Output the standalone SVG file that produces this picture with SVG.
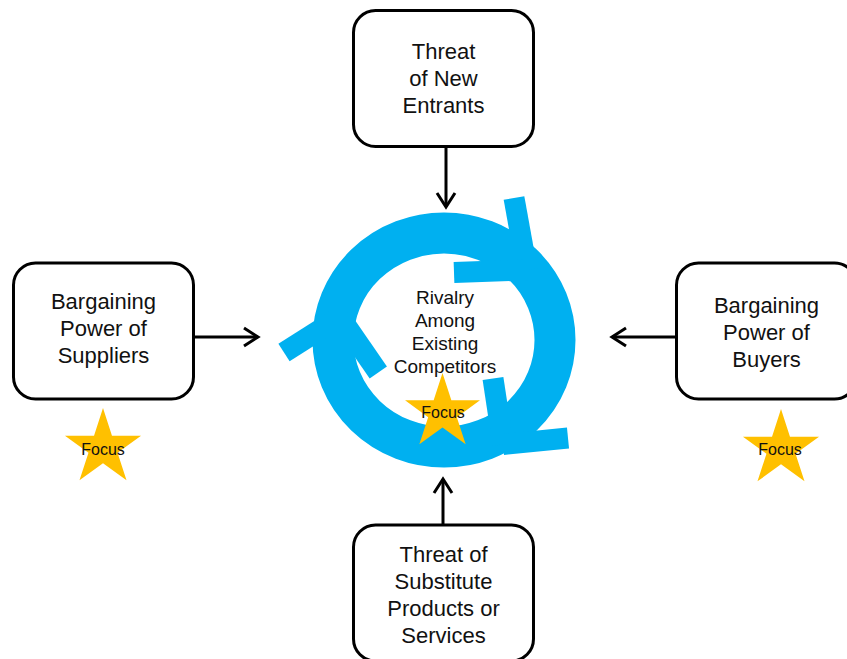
<svg xmlns="http://www.w3.org/2000/svg" width="847" height="659" viewBox="0 0 847 659">
<style>
.box{fill:#fff;stroke:#000;stroke-width:3}
.lbl{font-family:"Liberation Sans",Arial,sans-serif;font-size:22px;fill:#111;text-anchor:middle}
.mid{font-family:"Liberation Sans",Arial,sans-serif;font-size:19px;fill:#111;text-anchor:middle}
.foc{font-family:"Liberation Sans",Arial,sans-serif;font-size:16px;fill:#111;text-anchor:middle}
.conn{stroke:#000;stroke-width:3;fill:none;marker-end:url(#arr)}
.ring{fill:none;stroke:#00B0F0;stroke-width:41}
.barb{stroke:#00B0F0;stroke-width:21;stroke-linecap:butt}
.star{fill:#FFC000}
</style>
<defs>
<marker id="arr" markerUnits="userSpaceOnUse" markerWidth="30" markerHeight="30" refX="0" refY="0" viewBox="-20 -15 25 30" orient="auto" overflow="visible">
<path d="M-14,-9 L0,0 L-14,9" fill="none" stroke="#000" stroke-width="3"/>
</marker>
<polygon id="starShape" points="0,-40 8.98,-12.36 38.04,-12.36 14.53,4.72 23.51,32.36 0,15.28 -23.51,32.36 -14.53,4.72 -38.04,-12.36 -8.98,-12.36"/>
</defs>

<g id="connectors">
<line class="conn" x1="446" y1="147" x2="446" y2="207"/>
<line class="conn" x1="194" y1="337" x2="258" y2="337"/>
<line class="conn" x1="676" y1="337" x2="612" y2="337"/>
<line class="conn" x1="443" y1="525" x2="443" y2="479"/>
</g>

<g id="rivalry">
<ellipse class="ring" cx="444" cy="340" rx="111" ry="107"/>
<line class="barb" x1="527" y1="270" x2="514" y2="198"/>
<line class="barb" x1="527" y1="270" x2="454" y2="272.5"/>
<line class="barb" x1="340" y1="317" x2="284" y2="352.5"/>
<line class="barb" x1="340" y1="317" x2="378.3" y2="372.5"/>
<line class="barb" x1="503" y1="444.5" x2="493" y2="378.5"/>
<line class="barb" x1="503" y1="444.5" x2="568" y2="438"/>
<use href="#starShape" class="star" transform="translate(442.5,412.5) scale(0.985)"/>
<text class="mid" x="445" y="304">Rivalry</text>
<text class="mid" x="445" y="327">Among</text>
<text class="mid" x="445" y="350">Existing</text>
<text class="mid" x="445" y="373">Competitors</text>
<text class="foc" x="443" y="418">Focus</text>
</g>

<g id="new-entrants">
<rect class="box" x="353.5" y="10.5" width="180" height="136" rx="22"/>
<text class="lbl" x="443.5" y="59">Threat</text>
<text class="lbl" x="443.5" y="86">of New</text>
<text class="lbl" x="443.5" y="113">Entrants</text>
</g>

<g id="suppliers">
<rect class="box" x="13.5" y="263" width="180" height="136" rx="22"/>
<text class="lbl" x="103.5" y="309">Bargaining</text>
<text class="lbl" x="103.5" y="336">Power of</text>
<text class="lbl" x="103.5" y="363">Suppliers</text>
</g>

<g id="buyers">
<rect class="box" x="676.5" y="263" width="180" height="136" rx="22"/>
<text class="lbl" x="766.5" y="313">Bargaining</text>
<text class="lbl" x="766.5" y="340">Power of</text>
<text class="lbl" x="766.5" y="367">Buyers</text>
</g>

<g id="substitutes">
<rect class="box" x="353.5" y="525" width="180" height="136" rx="22"/>
<text class="lbl" x="443.5" y="562">Threat of</text>
<text class="lbl" x="443.5" y="589">Substitute</text>
<text class="lbl" x="443.5" y="616">Products or</text>
<text class="lbl" x="443.5" y="643">Services</text>
</g>

<g id="focus-suppliers">
<use href="#starShape" class="star" transform="translate(103,448)"/>
<text class="foc" x="103" y="455">Focus</text>
</g>

<g id="focus-buyers">
<use href="#starShape" class="star" transform="translate(781,449)"/>
<text class="foc" x="780" y="455">Focus</text>
</g>
</svg>
